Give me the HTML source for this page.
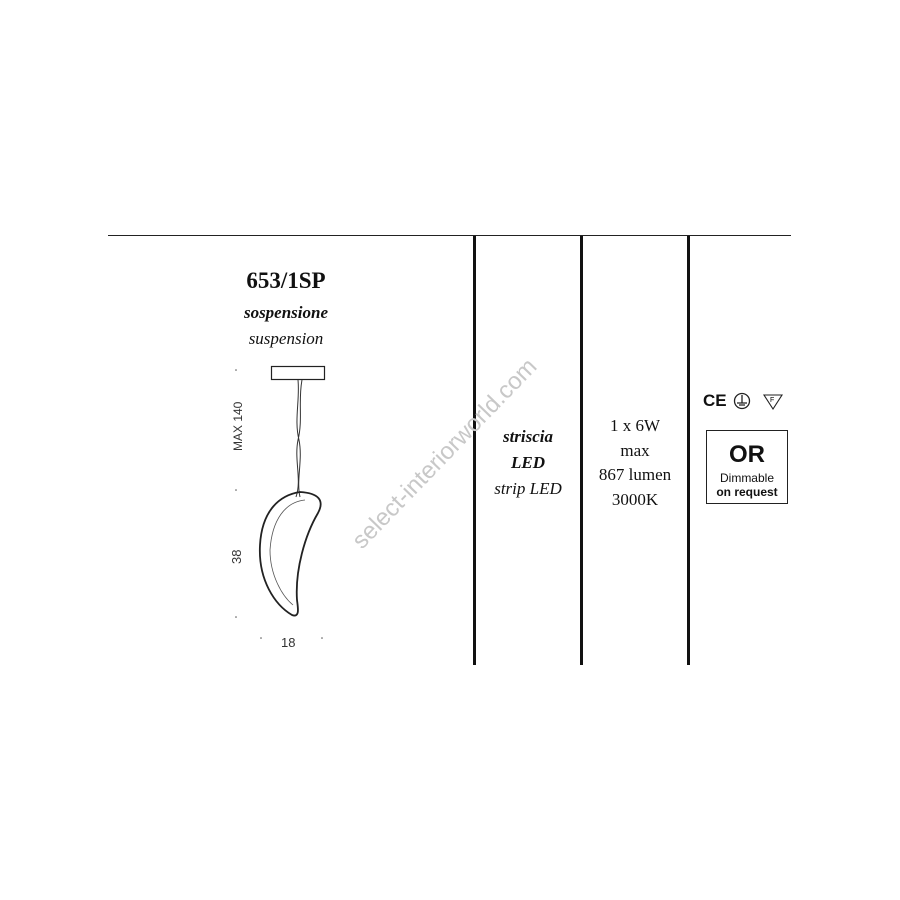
<!DOCTYPE html>
<html><head><style>
body{margin:0;width:900px;height:900px;background:#fff;position:relative;overflow:hidden;font-family:"Liberation Serif",serif;color:#111}
.a{position:absolute;white-space:nowrap}
.c{text-align:center}
</style></head><body>
<div class="a" style="left:108px;top:235px;width:683px;height:1px;background:#222"></div>
<div class="a" style="left:473px;top:236px;width:3px;height:429px;background:#111"></div>
<div class="a" style="left:580px;top:236px;width:3px;height:429px;background:#111"></div>
<div class="a" style="left:687px;top:236px;width:3px;height:429px;background:#111"></div>

<div class="a c" style="left:186px;width:200px;top:268px;font-size:23px;font-weight:bold">653/1SP</div>
<div class="a c" style="left:186px;width:200px;top:303px;font-size:17px;font-weight:bold;font-style:italic">sospensione</div>
<div class="a c" style="left:186px;width:200px;top:329px;font-size:17px;font-style:italic">suspension</div>

<svg class="a" style="left:0;top:0" width="900" height="900">
<text x="362" y="550" font-family="Liberation Sans" font-size="24" fill="#c8c8c8" transform="rotate(-46 362 550)">select-interiorworld.com</text>
<rect x="271.5" y="366.5" width="53" height="13" fill="none" stroke="#222" stroke-width="1.2"/>
<path d="M298 380 C300 400 294 420 299 440 C303 460 296 480 300 497" fill="none" stroke="#333" stroke-width="1"/>
<path d="M302 380 C298 400 303 420 298 440 C294 460 302 480 296 497" fill="none" stroke="#333" stroke-width="1"/>
<path d="M300 492 C280 495 262 510 260 545 C258 580 275 605 292 615 C300 618 298 608 297 600 C295 570 305 535 318 513 C325 500 318 493 300 492 Z" fill="none" stroke="#222" stroke-width="1.8"/>
<path d="M305 500 C285 502 272 520 270 550 C270 575 282 596 293 605" fill="none" stroke="#555" stroke-width="0.8"/>
<text x="242" y="451" font-family="Liberation Sans" font-size="12" fill="#333" transform="rotate(-90 242 451)">MAX 140</text>
<text x="241" y="564" font-family="Liberation Sans" font-size="13" fill="#333" transform="rotate(-90 241 564)">38</text>
<text x="281" y="647" font-family="Liberation Sans" font-size="13" fill="#333">18</text>
<circle cx="236" cy="370" r="0.8" fill="#555"/><circle cx="236" cy="490" r="0.8" fill="#555"/><circle cx="236" cy="617" r="0.8" fill="#555"/>
<circle cx="261" cy="638" r="0.8" fill="#555"/><circle cx="322" cy="638" r="0.8" fill="#555"/>
</svg>

<div class="a c" style="left:476px;width:104px;top:427px;font-size:17px;font-weight:bold;font-style:italic">striscia</div>
<div class="a c" style="left:476px;width:104px;top:453px;font-size:17px;font-weight:bold;font-style:italic">LED</div>
<div class="a c" style="left:476px;width:104px;top:479px;font-size:17px;font-style:italic">strip LED</div>

<div class="a c" style="left:583px;width:104px;top:414px;font-size:17px;line-height:24.5px">1 x 6W<br>max<br>867 lumen<br>3000K</div>

<div class="a" style="left:703px;top:391px;font-family:'Liberation Sans',sans-serif;font-weight:bold;font-size:17px">CE</div>
<svg class="a" style="left:732px;top:392px" width="60" height="20">
<circle cx="10" cy="9" r="7.5" fill="none" stroke="#222" stroke-width="1.3"/>
<path d="M10 3V11M5 11H15M7 13H13" stroke="#222" stroke-width="1.3"/>
<path d="M32 3H50L41 17Z" fill="none" stroke="#222" stroke-width="1.1"/>
<text x="38" y="10" font-size="7" font-family="Liberation Sans">F</text>
</svg>
<div class="a c" style="left:706px;top:430px;width:80px;height:72px;border:1.5px solid #222;font-family:'Liberation Sans',sans-serif">
<div style="font-size:24px;font-weight:bold;margin-top:12px;line-height:24px">OR</div>
<div style="font-size:12px;line-height:14px;margin-top:4px">Dimmable</div>
<div style="font-size:12px;font-weight:bold;line-height:14px">on request</div>
</div>
</body></html>
